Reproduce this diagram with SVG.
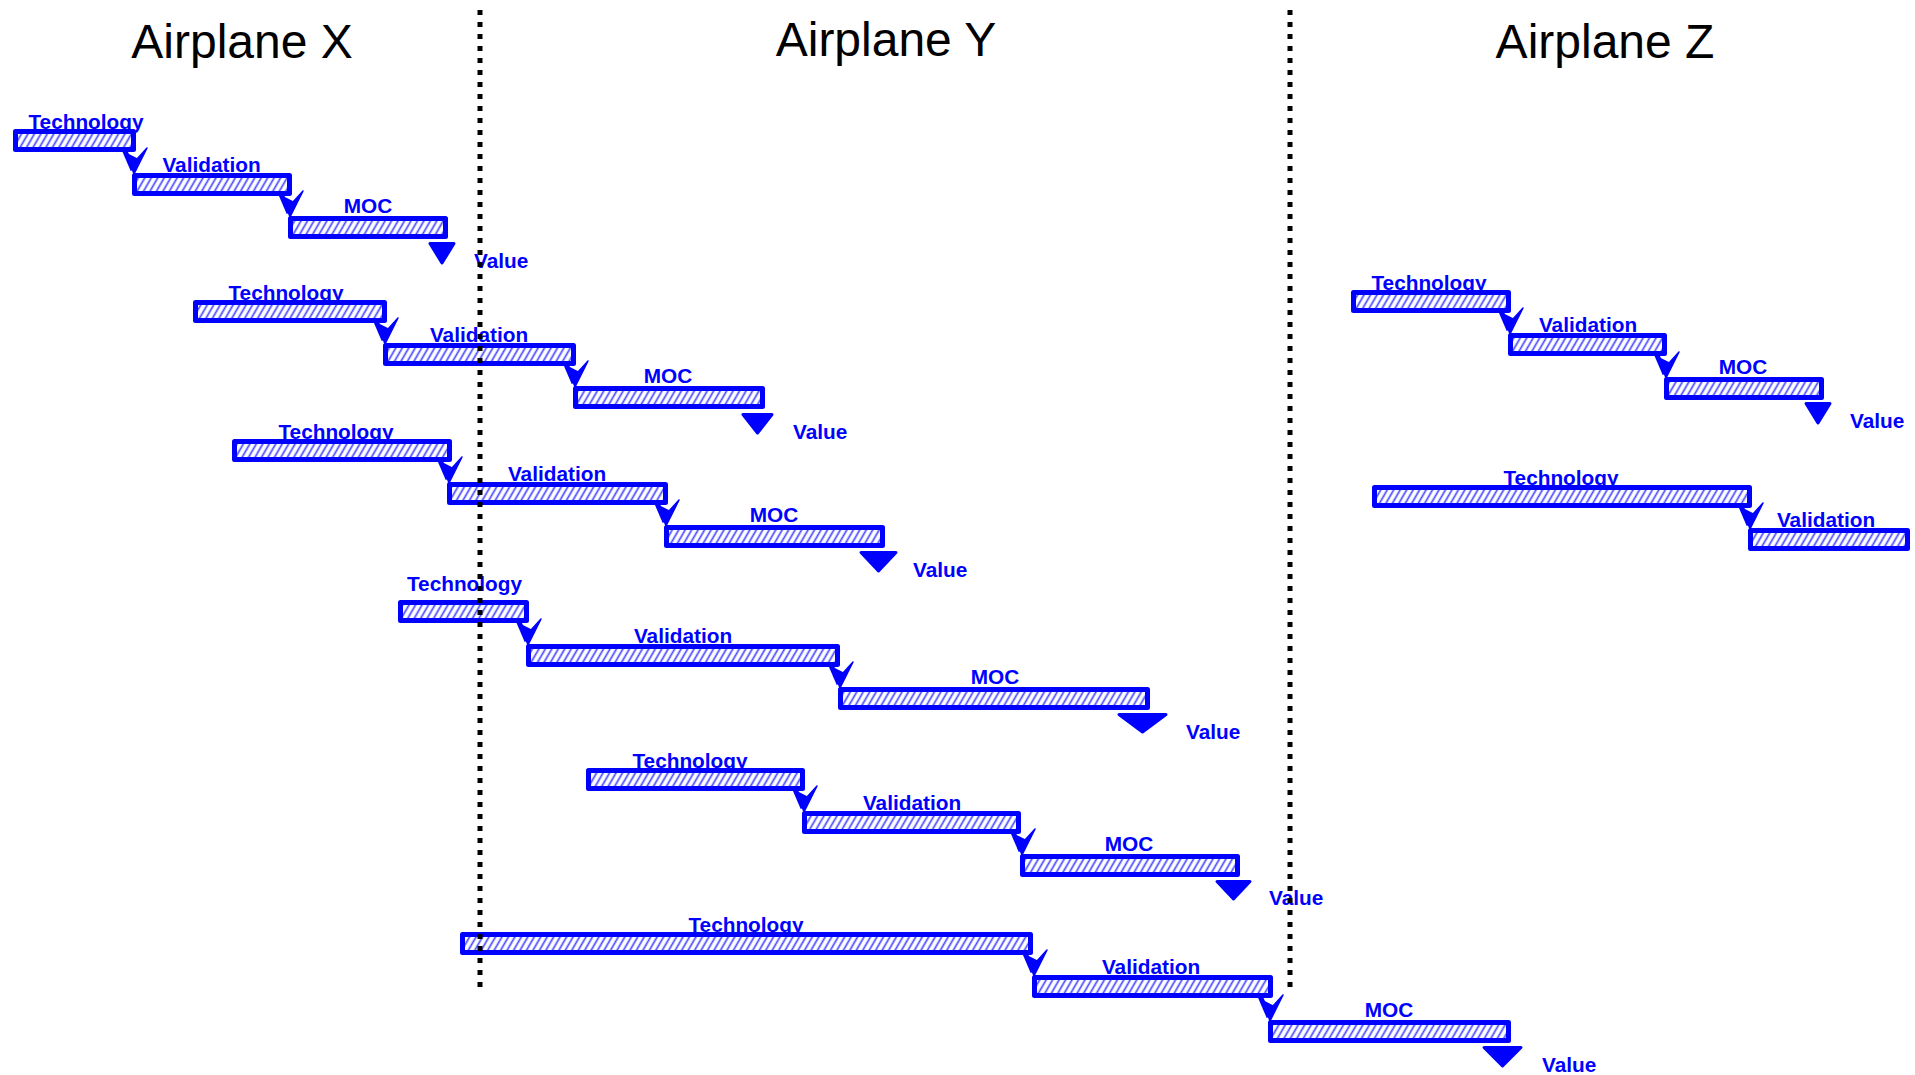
<svg xmlns="http://www.w3.org/2000/svg" xmlns:xlink="http://www.w3.org/1999/xlink" width="1915" height="1075" viewBox="0 0 1915 1075">
<style>
.bar{fill:url(#hatch);stroke:#0000ff;stroke-width:5;stroke-linejoin:round}
.lbl{font-family:"Liberation Sans",Arial,sans-serif;font-weight:bold;font-size:20.8px;fill:#0000ff;text-anchor:middle}
.val{font-family:"Liberation Sans",Arial,sans-serif;font-weight:bold;font-size:20.8px;fill:#0000ff}
.tri{fill:#0000ff;stroke:#0000ff;stroke-width:3;stroke-linejoin:round}
.title{font-family:"Liberation Sans",Arial,sans-serif;font-size:48px;fill:#000;text-anchor:middle}
.div{stroke:#000;stroke-width:5;stroke-dasharray:5 7}
</style>
<defs>
<pattern id="hatch" patternUnits="userSpaceOnUse" width="5.6" height="6" patternTransform="rotate(30)">
<rect width="5.6" height="6" fill="#fff"/>
<line x1="1.5" y1="0" x2="1.5" y2="6" stroke="#4a4aff" stroke-width="1.7"/>
</pattern>
<g id="arr">
<line x1="-10" y1="-24" x2="-1" y2="-3" stroke="#0000ff" stroke-width="5"/>
<polygon points="0,1 13,-25 3,-14 -7,-19" fill="#0000ff" stroke="#0000ff" stroke-width="1.5" stroke-linejoin="round"/>
</g>
</defs>
<rect width="1915" height="1075" fill="#fff"/>

<g id="titles">
<text class="title" x="242" y="58">Airplane X</text>
<text class="title" x="886" y="56">Airplane Y</text>
<text class="title" x="1605" y="58">Airplane Z</text>
</g>

<g id="g1-tech"><text class="lbl" x="86" y="128.5">Technology</text><rect class="bar" x="15.5" y="131.5" width="118" height="18"/></g>
<g id="g1-val"><text class="lbl" x="211.5" y="172">Validation</text><rect class="bar" x="134.5" y="175.5" width="155" height="18"/></g>
<g id="g1-moc"><text class="lbl" x="368" y="212.5">MOC</text><rect class="bar" x="290.5" y="218.5" width="155" height="18"/></g>
<g id="g1-value"><polygon class="tri" points="430,243.5 454,243.5 442,263"/><text class="val" x="474" y="268">Value</text></g>

<g id="g2-tech"><text class="lbl" x="286" y="299.5">Technology</text><rect class="bar" x="195.5" y="302.5" width="189" height="18"/></g>
<g id="g2-val"><text class="lbl" x="479" y="342">Validation</text><rect class="bar" x="385.5" y="345.5" width="188" height="18"/></g>
<g id="g2-moc"><text class="lbl" x="668" y="382.5">MOC</text><rect class="bar" x="575.5" y="388.5" width="187" height="18"/></g>
<g id="g2-value"><polygon class="tri" points="743,414.5 772,414.5 757.5,433"/><text class="val" x="793" y="439">Value</text></g>

<g id="g3-tech"><text class="lbl" x="336" y="438.5">Technology</text><rect class="bar" x="234.5" y="441.5" width="215" height="18"/></g>
<g id="g3-val"><text class="lbl" x="557" y="481">Validation</text><rect class="bar" x="449.5" y="484.5" width="216" height="18"/></g>
<g id="g3-moc"><text class="lbl" x="774" y="521.5">MOC</text><rect class="bar" x="666.5" y="527.5" width="216" height="18"/></g>
<g id="g3-value"><polygon class="tri" points="861,552.5 896,552.5 878.5,571"/><text class="val" x="913" y="577">Value</text></g>

<g id="g4-tech"><text class="lbl" x="464.5" y="591">Technology</text><rect class="bar" x="400.5" y="602.5" width="126" height="18"/></g>
<g id="g4-val"><text class="lbl" x="683" y="643">Validation</text><rect class="bar" x="528.5" y="646.5" width="309" height="18"/></g>
<g id="g4-moc"><text class="lbl" x="995" y="683.5">MOC</text><rect class="bar" x="840.5" y="689.5" width="307" height="18"/></g>
<g id="g4-value"><polygon class="tri" points="1119,714.5 1166,714.5 1142.5,732"/><text class="val" x="1186" y="739">Value</text></g>

<g id="g5-tech"><text class="lbl" x="690" y="767.5">Technology</text><rect class="bar" x="588.5" y="770.5" width="214" height="18"/></g>
<g id="g5-val"><text class="lbl" x="912" y="810">Validation</text><rect class="bar" x="804.5" y="813.5" width="214" height="18"/></g>
<g id="g5-moc"><text class="lbl" x="1129" y="850.5">MOC</text><rect class="bar" x="1022.5" y="856.5" width="215" height="18"/></g>
<g id="g5-value"><polygon class="tri" points="1217,881.5 1250,881.5 1233.5,899"/><text class="val" x="1269" y="905">Value</text></g>

<g id="g6-tech"><text class="lbl" x="746" y="931.5">Technology</text><rect class="bar" x="462.5" y="934.5" width="568" height="18"/></g>
<g id="g6-val"><text class="lbl" x="1151" y="974">Validation</text><rect class="bar" x="1034.5" y="977.5" width="236" height="18"/></g>
<g id="g6-moc"><text class="lbl" x="1389" y="1016.5">MOC</text><rect class="bar" x="1270.5" y="1022.5" width="238" height="18"/></g>
<g id="g6-value"><polygon class="tri" points="1484,1047.5 1521,1047.5 1502.5,1066"/><text class="val" x="1542" y="1072">Value</text></g>

<g id="g7-tech"><text class="lbl" x="1429" y="289.5">Technology</text><rect class="bar" x="1353.5" y="292.5" width="155" height="18"/></g>
<g id="g7-val"><text class="lbl" x="1588" y="332">Validation</text><rect class="bar" x="1510.5" y="335.5" width="154" height="18"/></g>
<g id="g7-moc"><text class="lbl" x="1743" y="373.5">MOC</text><rect class="bar" x="1666.5" y="379.5" width="155" height="18"/></g>
<g id="g7-value"><polygon class="tri" points="1806,403.5 1830,403.5 1818,423"/><text class="val" x="1850" y="428">Value</text></g>

<g id="g8-tech"><text class="lbl" x="1561" y="484.5">Technology</text><rect class="bar" x="1374.5" y="487.5" width="375" height="18"/></g>
<g id="g8-val"><text class="lbl" x="1826" y="527">Validation</text><rect class="bar" x="1750.5" y="530.5" width="157" height="18"/></g>

<g id="connectors">
<use xlink:href="#arr" x="134" y="173"/>
<use xlink:href="#arr" x="290" y="216"/>
<use xlink:href="#arr" x="385" y="343"/>
<use xlink:href="#arr" x="575" y="386"/>
<use xlink:href="#arr" x="449" y="482"/>
<use xlink:href="#arr" x="666" y="525"/>
<use xlink:href="#arr" x="528" y="644"/>
<use xlink:href="#arr" x="840" y="687"/>
<use xlink:href="#arr" x="804" y="811"/>
<use xlink:href="#arr" x="1022" y="854"/>
<use xlink:href="#arr" x="1034" y="975"/>
<use xlink:href="#arr" x="1270" y="1020"/>
<use xlink:href="#arr" x="1510" y="333"/>
<use xlink:href="#arr" x="1666" y="377"/>
<use xlink:href="#arr" x="1750" y="528"/>
</g>

<g id="dividers">
<line class="div" x1="480" y1="10" x2="480" y2="987"/>
<line class="div" x1="1290" y1="10" x2="1290" y2="987"/>
</g>
</svg>
